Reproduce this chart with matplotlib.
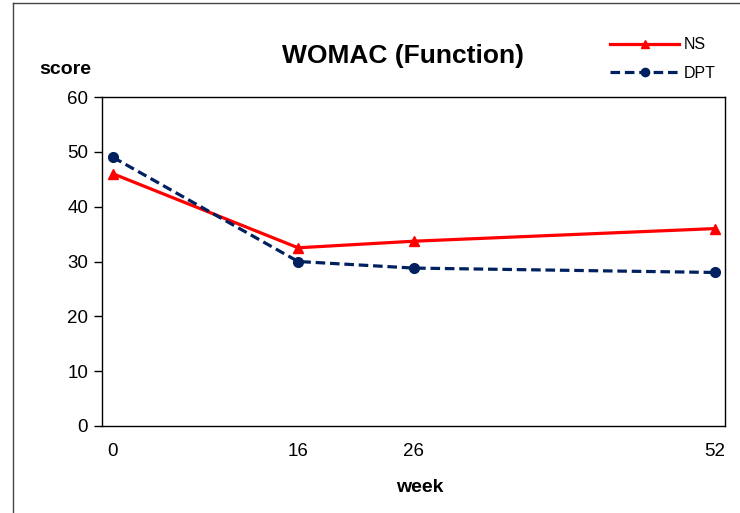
import matplotlib.pyplot as plt
from matplotlib.lines import Line2D

plt.rcParams['font.family'] = ['Liberation Sans', 'DejaVu Sans']

weeks = [0, 16, 26, 52]
ns = [46, 32.5, 33.7, 36]
dpt = [49, 30, 28.8, 28]

fig = plt.figure(figsize=(7.4, 5.13), dpi=100)
W, H = 740, 513
ax = fig.add_axes([102 / W, 1 - 426 / H, (725 - 102) / W, (426 - 97) / H])

ax.plot(weeks, ns, color='#FF0000', linewidth=2.3, marker='^', markersize=7,
        label='NS', zorder=3)
ax.plot(weeks, dpt, color='#002060', linewidth=2.3, linestyle=(0, (3, 1.5)),
        marker='o', markersize=7, label='DPT', zorder=3)

ax.set_xlim(-0.95, 52.9)
ax.set_ylim(0, 60)
ax.set_yticks(range(0, 61, 10))
ax.set_xticks(weeks)
ax.tick_params(axis='y', length=6, width=1, labelsize=13.5, pad=4)
ax.tick_params(axis='x', length=0, labelsize=13.5, pad=12)
for s in ax.spines.values():
    s.set_linewidth(1)
    s.set_color('black')

fig.text(403 / W, 1 - 56 / H, 'WOMAC (Function)', ha='center', va='center',
         fontsize=19, fontweight='bold')
fig.text(65 / W, 1 - 69 / H, 'score', ha='center', va='center',
         fontsize=14, fontweight='bold')
fig.text(420 / W, 1 - 487 / H, 'week', ha='center', va='center',
         fontsize=14, fontweight='bold')

leg = fig.legend(loc='upper left', bbox_to_anchor=(596 / W, 1 - 23 / H), frameon=False,
                 fontsize=11.5, handlelength=4.3, handletextpad=0.3, labelspacing=0.85,
                 markerscale=0.85)

# outer chart border (left and top edges visible)
fig.add_artist(Line2D([13 / W, 13 / W], [0, 1 - 3 / H], color='#444444', linewidth=1))
fig.add_artist(Line2D([13 / W, 1], [1 - 3 / H, 1 - 3 / H], color='#444444', linewidth=1))

fig.savefig('out.png', dpi=100)
